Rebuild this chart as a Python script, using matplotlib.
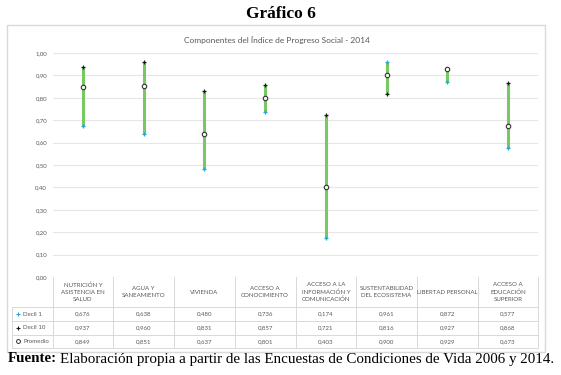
import matplotlib
matplotlib.use("Agg")
import matplotlib.pyplot as plt
from matplotlib.patches import Rectangle
from matplotlib.lines import Line2D
from matplotlib.transforms import blended_transform_factory

categories = ["NUTRICIÓN Y\nASISTENCIA EN\nSALUD", "AGUA Y\nSANEAMIENTO", "VIVIENDA",
              "ACCESO A\nCONOCIMIENTO", "ACCESO A LA\nINFORMACIÓN Y\nCOMUNICACIÓN",
              "SUSTENTABILIDAD\nDEL ECOSISTEMA", "LIBERTAD PERSONAL",
              "ACCESO A\nEDUCACIÓN\nSUPERIOR"]
decil1 = [0.676, 0.638, 0.480, 0.736, 0.174, 0.961, 0.872, 0.577]
decil10 = [0.937, 0.960, 0.831, 0.857, 0.721, 0.816, 0.927, 0.868]
promedio = [0.849, 0.851, 0.637, 0.801, 0.403, 0.900, 0.929, 0.673]
yticks = [0.0, 0.1, 0.2, 0.3, 0.4, 0.5, 0.6, 0.7, 0.8, 0.9, 1.0]

W, H = 561, 375
fig = plt.figure(figsize=(W / 100, H / 100), dpi=100)
fig.patch.set_facecolor("white")

def fx(px):
    return px / W

def fy(py):
    return 1 - py / H

FONT = ["Lato", "DejaVu Sans"]
GRAY = "#595959"
LINEC = "#d9d9d9"

# chart frame
fig.add_artist(Rectangle((fx(7), fy(352)), fx(545) - fx(7), fy(25) - fy(352),
                         transform=fig.transFigure, fill=False, edgecolor=LINEC, lw=1.0))

# axes
L, R, T, B = 52.6, 538.4, 53, 277
ax = fig.add_axes([fx(L), fy(B), fx(R) - fx(L), fy(T) - fy(B)])
ax.set_facecolor("none")
n = len(categories)
x = list(range(n))
ax.set_xlim(-0.5, n - 0.5)
ax.set_ylim(0, 1.0)
for s in ax.spines.values():
    s.set_visible(False)
ax.set_yticks(yticks)
ax.set_yticklabels([f"{v:.2f}".replace(".", ",") for v in yticks], fontsize=4.3, color=GRAY,
                   family=FONT)
ax.tick_params(axis="y", length=0, pad=4)
ax.set_xticks([])
ax.grid(axis="y", color="#e6e6e6", lw=0.8)
ax.set_axisbelow(True)

GREEN = "#78C864"
BLUE = "#1FA8E0"
for i in x:
    vals = [decil1[i], decil10[i], promedio[i]]
    ax.vlines(i, min(vals), max(vals), color=GREEN, lw=2.2, zorder=2)
ax.plot(x, decil1, ls="none", marker="+", ms=3.4, mew=0.9, color=BLUE, zorder=3)
ax.plot(x, decil10, ls="none", marker="+", ms=3.4, mew=0.9, color="#1a1a1a", zorder=3)
ax.plot(x, promedio, ls="none", marker="o", ms=3.2, mew=0.8, mfc="white", mec="#333333", zorder=4)

# chart title
fig.text(fx(277), fy(40), "Componentes del Índice de Progreso Social - 2014", ha="center",
         va="center", fontsize=6.0, color=GRAY, family=FONT)

# data table
bt = blended_transform_factory(ax.transData, fig.transFigure)
row_lines = [307, 321, 334.5, 348]
table_left = 12
for py in row_lines:
    fig.add_artist(Line2D([fx(table_left), fx(R)], [fy(py), fy(py)], transform=fig.transFigure,
                          color=LINEC, lw=0.7))
for k in range(n + 1):
    fig.add_artist(Line2D([k - 0.5, k - 0.5], [fy(B), fy(348)], transform=bt, color=LINEC, lw=0.7))
fig.add_artist(Line2D([fx(table_left), fx(table_left)], [fy(307), fy(348)],
                      transform=fig.transFigure, color=LINEC, lw=0.7))

for i in x:
    fig.text(i, fy(292), categories[i], transform=bt, ha="center", va="center",
             fontsize=4.4, color=GRAY, family=FONT, linespacing=1.55)

row_centers = [314, 327.8, 341.3]
series = [decil1, decil10, promedio]
names = ["Decil 1", "Decil 10", "Promedio"]
for r, (vals, yc) in enumerate(zip(series, row_centers)):
    for i in x:
        fig.text(i, fy(yc), f"{vals[i]:.3f}".replace(".", ","), transform=bt, ha="center",
                 va="center", fontsize=4.4, color=GRAY, family=FONT)
    fig.text(fx(23), fy(yc), names[r], ha="left", va="center", fontsize=4.4, color=GRAY, family=FONT)

# legend keys in table
fig.add_artist(Line2D([fx(18)], [fy(row_centers[0])], transform=fig.transFigure, marker="+",
                      ms=3.2, mew=0.8, color=BLUE, ls="none"))
fig.add_artist(Line2D([fx(18)], [fy(row_centers[1])], transform=fig.transFigure, marker="+",
                      ms=3.2, mew=0.8, color="#1a1a1a", ls="none"))
fig.add_artist(Line2D([fx(18)], [fy(row_centers[2])], transform=fig.transFigure, marker="o",
                      ms=2.8, mew=0.7, mfc="white", mec="#333333", ls="none"))

# headline and footer
SERIF = ["Liberation Serif", "DejaVu Serif"]
fig.text(0.5, fy(14), "Gráfico 6", ha="center", va="center", fontsize=12.5, fontweight="bold",
         family=SERIF, color="black")

fs = 10.0
t = fig.text(fx(8), fy(359), "Fuente:", ha="left", va="center", fontsize=fs, fontweight="bold",
             family=SERIF, color="black")
rest = fig.text(0, fy(359),
                "Elaboración propia a partir de las Encuestas de Condiciones de Vida 2006 y 2014.",
                ha="left", va="center", fontsize=fs, family=SERIF, color="black")
fig.canvas.draw()
r = fig.canvas.get_renderer()
w_total = t.get_window_extent(r).width + 3 + rest.get_window_extent(r).width
scale = (553 - 8) / w_total
fs2 = fs * scale
t.set_fontsize(fs2)
rest.set_fontsize(fs2)
fig.canvas.draw()
bb = t.get_window_extent(r)
rest.set_x((bb.x1 + 3 * scale) / W)

fig.savefig("out.png", dpi=100, facecolor="white")
